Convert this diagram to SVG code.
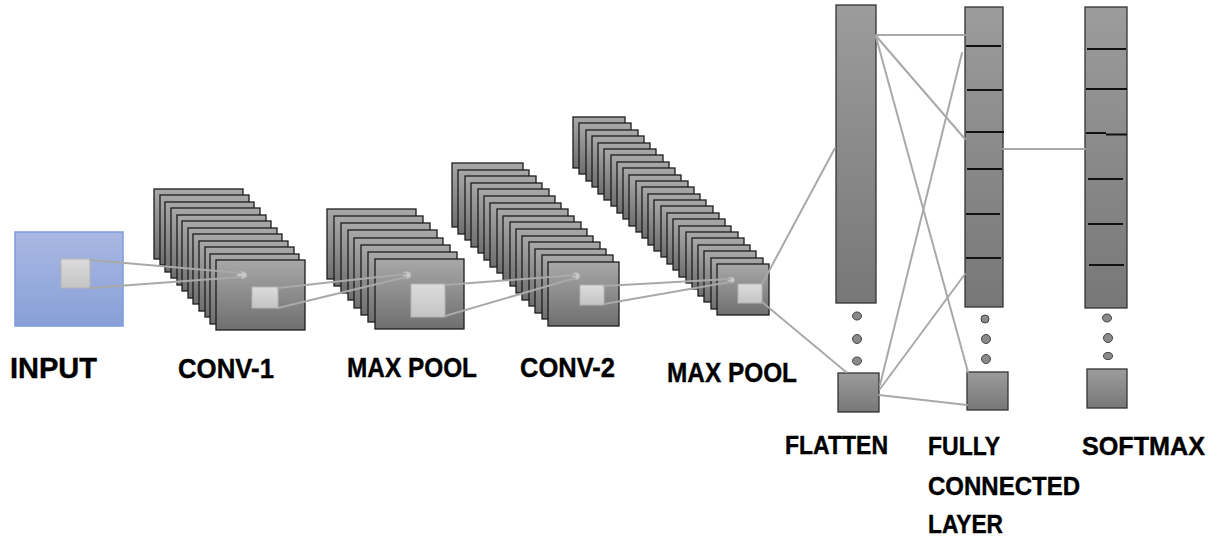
<svg xmlns="http://www.w3.org/2000/svg" xmlns:xlink="http://www.w3.org/1999/xlink" width="1217" height="541" viewBox="0 0 1217 541">
  <style>
    .frame { fill: url(#gFrame); stroke: #1c1c1c; stroke-width: 1.3; }
    .patch { fill: url(#gPatch); stroke: #b4b4b4; stroke-width: 1; }
    .spot { fill: #c8c8c8; stroke: #b0b0b0; stroke-width: 0.8; }
    .col { fill: url(#gCol); stroke: #333; stroke-width: 1.3; }
    .div { stroke: #111; stroke-width: 2; }
    .dot { fill: #8a8a8a; stroke: #444; stroke-width: 1; }
    .link { fill: none; stroke: #a9a9a9; stroke-width: 2; stroke-linecap: round; }
    .lbl { font-family: "Liberation Sans", Arial, sans-serif; font-weight: bold; fill: #000; stroke: #000; stroke-width: 0.4; }
  </style>
  <defs>
    <linearGradient id="gFrame" x1="0" y1="0" x2="0" y2="1">
      <stop offset="0" stop-color="#a8a8a8"/>
      <stop offset="1" stop-color="#6f6f6f"/>
    </linearGradient>
    <linearGradient id="gCol" x1="0" y1="0" x2="0" y2="1">
      <stop offset="0" stop-color="#9c9c9c"/>
      <stop offset="1" stop-color="#777"/>
    </linearGradient>
    <linearGradient id="gPatch" x1="0" y1="0" x2="0" y2="1">
      <stop offset="0" stop-color="#dcdcdc"/>
      <stop offset="1" stop-color="#c4c4c4"/>
    </linearGradient>
    <linearGradient id="gInput" x1="0" y1="0" x2="0" y2="1">
      <stop offset="0" stop-color="#a9b8e2"/>
      <stop offset="1" stop-color="#88a0d8"/>
    </linearGradient>
    <rect id="fA" class="frame" width="89" height="70"/>
    <rect id="fC" class="frame" width="71" height="64"/>
    <rect id="fD" class="frame" width="52" height="51"/>
  </defs>

  <rect width="1217" height="541" fill="#fff"/>

  <!-- input image with receptive-field patch -->
  <g id="input">
    <rect x="15" y="232" width="108" height="94" fill="url(#gInput)" stroke="#7d9be0" stroke-width="1.5"/>
    <rect class="patch" x="61" y="259" width="29" height="29"/>
    <text class="lbl" x="10" y="378" font-size="29" textLength="87" lengthAdjust="spacingAndGlyphs">INPUT</text>
  </g>

  <!-- first convolution: stack of 12 feature maps -->
  <g id="conv1">
    <use xlink:href="#fA" x="154" y="189"/>
    <use xlink:href="#fA" x="160" y="195"/>
    <use xlink:href="#fA" x="165" y="202"/>
    <use xlink:href="#fA" x="171" y="208"/>
    <use xlink:href="#fA" x="177" y="215"/>
    <use xlink:href="#fA" x="182" y="221"/>
    <use xlink:href="#fA" x="188" y="228"/>
    <use xlink:href="#fA" x="193" y="234"/>
    <use xlink:href="#fA" x="199" y="241"/>
    <use xlink:href="#fA" x="205" y="247"/>
    <use xlink:href="#fA" x="210" y="254"/>
    <use xlink:href="#fA" x="216" y="260"/>
    <ellipse class="spot" cx="242" cy="275" rx="5" ry="3.5"/>
    <rect class="patch" x="252" y="287" width="26" height="21"/>
    <text class="lbl" x="178" y="378" font-size="28" textLength="96" lengthAdjust="spacingAndGlyphs">CONV-1</text>
  </g>

  <!-- first max pooling -->
  <g id="maxpool1">
    <use xlink:href="#fA" x="327" y="209"/>
    <use xlink:href="#fA" x="334" y="216"/>
    <use xlink:href="#fA" x="341" y="223"/>
    <use xlink:href="#fA" x="348" y="230"/>
    <use xlink:href="#fA" x="354" y="238"/>
    <use xlink:href="#fA" x="361" y="245"/>
    <use xlink:href="#fA" x="368" y="252"/>
    <use xlink:href="#fA" x="375" y="259"/>
    <ellipse class="spot" cx="407" cy="275" rx="4" ry="3.5"/>
    <rect class="patch" x="411" y="284" width="34" height="33"/>
    <text class="lbl" x="347" y="377" font-size="28" textLength="130" lengthAdjust="spacingAndGlyphs">MAX POOL</text>
  </g>

  <!-- second convolution -->
  <g id="conv2">
    <use xlink:href="#fC" x="452" y="163"/>
    <use xlink:href="#fC" x="458" y="170"/>
    <use xlink:href="#fC" x="465" y="176"/>
    <use xlink:href="#fC" x="471" y="183"/>
    <use xlink:href="#fC" x="478" y="189"/>
    <use xlink:href="#fC" x="484" y="196"/>
    <use xlink:href="#fC" x="490" y="203"/>
    <use xlink:href="#fC" x="497" y="209"/>
    <use xlink:href="#fC" x="503" y="216"/>
    <use xlink:href="#fC" x="510" y="222"/>
    <use xlink:href="#fC" x="516" y="229"/>
    <use xlink:href="#fC" x="522" y="236"/>
    <use xlink:href="#fC" x="529" y="242"/>
    <use xlink:href="#fC" x="535" y="249"/>
    <use xlink:href="#fC" x="542" y="255"/>
    <use xlink:href="#fC" x="548" y="262"/>
    <ellipse class="spot" cx="576" cy="276" rx="4" ry="3.5"/>
    <rect class="patch" x="580" y="285" width="24" height="20"/>
    <text class="lbl" x="520" y="377" font-size="28" textLength="95" lengthAdjust="spacingAndGlyphs">CONV-2</text>
  </g>

  <!-- second max pooling -->
  <g id="maxpool2">
    <use xlink:href="#fD" x="573" y="117"/>
    <use xlink:href="#fD" x="579" y="123"/>
    <use xlink:href="#fD" x="586" y="130"/>
    <use xlink:href="#fD" x="592" y="136"/>
    <use xlink:href="#fD" x="598" y="143"/>
    <use xlink:href="#fD" x="604" y="149"/>
    <use xlink:href="#fD" x="611" y="155"/>
    <use xlink:href="#fD" x="617" y="162"/>
    <use xlink:href="#fD" x="623" y="168"/>
    <use xlink:href="#fD" x="629" y="175"/>
    <use xlink:href="#fD" x="636" y="181"/>
    <use xlink:href="#fD" x="642" y="187"/>
    <use xlink:href="#fD" x="648" y="194"/>
    <use xlink:href="#fD" x="654" y="200"/>
    <use xlink:href="#fD" x="661" y="206"/>
    <use xlink:href="#fD" x="667" y="213"/>
    <use xlink:href="#fD" x="673" y="219"/>
    <use xlink:href="#fD" x="679" y="226"/>
    <use xlink:href="#fD" x="686" y="232"/>
    <use xlink:href="#fD" x="692" y="238"/>
    <use xlink:href="#fD" x="698" y="245"/>
    <use xlink:href="#fD" x="704" y="251"/>
    <use xlink:href="#fD" x="711" y="258"/>
    <use xlink:href="#fD" x="717" y="264"/>
    <ellipse class="spot" cx="731" cy="280" rx="3.5" ry="3"/>
    <rect class="patch" x="738" y="284" width="24" height="19"/>
    <text class="lbl" x="667" y="382" font-size="28" textLength="130" lengthAdjust="spacingAndGlyphs">MAX POOL</text>
  </g>

  <!-- flatten vector -->
  <g id="flatten">
    <rect class="col" x="836" y="5" width="40" height="298"/>
    <ellipse class="dot" cx="857" cy="316" rx="4.5" ry="4"/>
    <ellipse class="dot" cx="857" cy="339" rx="4.5" ry="4.5"/>
    <ellipse class="dot" cx="857" cy="361" rx="4.5" ry="4"/>
    <rect class="col" x="838" y="373" width="41" height="39"/>
    <text class="lbl" x="785" y="454" font-size="25" textLength="103" lengthAdjust="spacingAndGlyphs">FLATTEN</text>
  </g>

  <!-- fully connected layer -->
  <g id="fc">
    <rect class="col" x="965" y="7" width="38" height="300"/>
    <line class="div" x1="966" y1="46" x2="1001" y2="46"/>
    <line class="div" x1="967" y1="90" x2="1002" y2="90"/>
    <line class="div" x1="966" y1="132" x2="1004" y2="132"/>
    <line class="div" x1="967" y1="169" x2="1002" y2="169"/>
    <line class="div" x1="966" y1="214" x2="1000" y2="214"/>
    <line class="div" x1="966" y1="258" x2="1001" y2="258"/>
    <ellipse class="dot" cx="985" cy="319" rx="4" ry="4"/>
    <ellipse class="dot" cx="986" cy="339" rx="4.5" ry="4.5"/>
    <ellipse class="dot" cx="986" cy="359" rx="4.5" ry="4.5"/>
    <rect class="col" x="967" y="372" width="41" height="38"/>
    <text class="lbl" x="928" y="455" font-size="25" textLength="72" lengthAdjust="spacingAndGlyphs">FULLY</text>
    <text class="lbl" x="928" y="495" font-size="25" textLength="152" lengthAdjust="spacingAndGlyphs">CONNECTED</text>
    <text class="lbl" x="928" y="533" font-size="25" textLength="75" lengthAdjust="spacingAndGlyphs">LAYER</text>
  </g>

  <!-- softmax output -->
  <g id="softmax">
    <rect class="col" x="1085" y="7" width="42" height="301"/>
    <line class="div" x1="1087" y1="49" x2="1126" y2="49"/>
    <line class="div" x1="1086" y1="89" x2="1127" y2="89"/>
    <line class="div" x1="1086" y1="133" x2="1106" y2="133"/>
    <line class="div" x1="1106" y1="134.5" x2="1127" y2="134.5"/>
    <line class="div" x1="1088" y1="179" x2="1123" y2="179"/>
    <line class="div" x1="1088" y1="224" x2="1123" y2="224" stroke-width="1.2"/>
    <line class="div" x1="1089" y1="265" x2="1124" y2="265"/>
    <ellipse class="dot" cx="1107" cy="318" rx="4.5" ry="4"/>
    <ellipse class="dot" cx="1108" cy="338" rx="4.5" ry="4.5"/>
    <ellipse class="dot" cx="1108" cy="356" rx="4.5" ry="3.5"/>
    <rect class="col" x="1087" y="369" width="40" height="39"/>
    <text class="lbl" x="1082" y="455" font-size="25" textLength="123" lengthAdjust="spacingAndGlyphs">SOFTMAX</text>
  </g>

  <!-- receptive-field and dense connections -->
  <g id="connectors">
    <line class="link" x1="90" y1="260" x2="241" y2="273"/>
    <line class="link" x1="90" y1="288" x2="241" y2="277"/>
    <line class="link" x1="278" y1="288" x2="406" y2="274"/>
    <line class="link" x1="278" y1="308" x2="406" y2="277"/>
    <line class="link" x1="445" y1="285" x2="575" y2="275"/>
    <line class="link" x1="445" y1="316" x2="575" y2="278"/>
    <line class="link" x1="604" y1="286" x2="730" y2="279"/>
    <line class="link" x1="604" y1="304" x2="730" y2="282"/>
    <line class="link" x1="762" y1="284" x2="835" y2="148"/>
    <line class="link" x1="762" y1="302" x2="846" y2="372"/>
    <line class="link" x1="876" y1="35" x2="965" y2="35"/>
    <line class="link" x1="876" y1="36" x2="965" y2="139"/>
    <line class="link" x1="876" y1="37" x2="968" y2="372"/>
    <line class="link" x1="962" y1="53" x2="880" y2="385"/>
    <line class="link" x1="965" y1="274" x2="880" y2="389"/>
    <line class="link" x1="879" y1="395" x2="967" y2="405"/>
    <line class="link" x1="1003" y1="149" x2="1085" y2="149"/>
  </g>
</svg>
